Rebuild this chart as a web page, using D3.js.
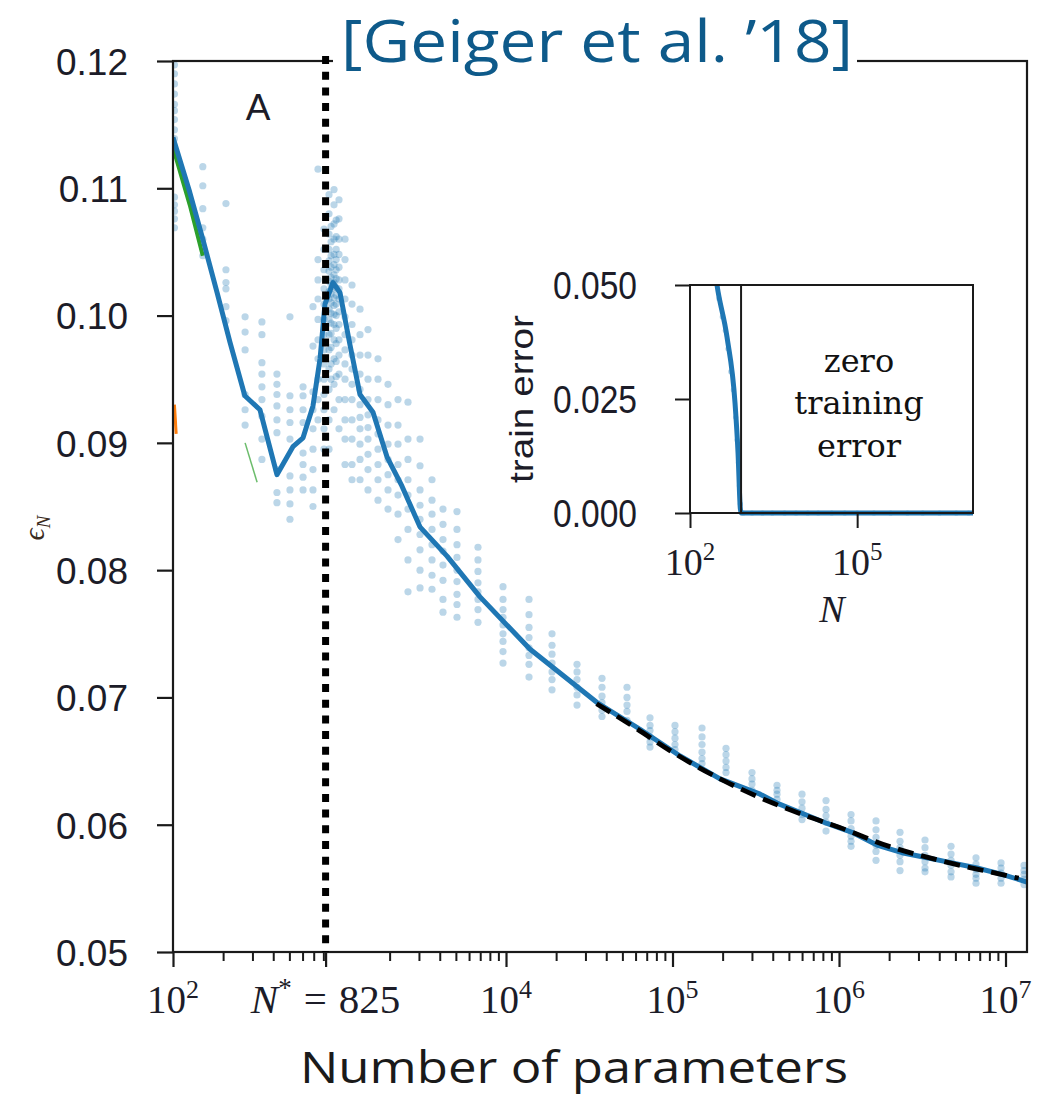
<!DOCTYPE html>
<html><head><meta charset="utf-8">
<script src="https://cdn.jsdelivr.net/npm/d3@7"></script>
<style>body{margin:0;background:#fff;} svg{display:block;}</style>
</head><body>
<svg id="chart" width="1037" height="1097"></svg>
<script>
// ---------------- data ----------------
const meanN = [100, 126, 151, 184, 220, 270, 333, 421, 525, 604, 693, 764, 818, 914, 1007, 1156, 1327, 1589, 1928, 2373, 3041, 4424, 6982, 13900, 35200, 63800, 111000, 193000, 336000, 424000, 600000, 847000, 1197000, 1690000, 2390000, 3380000, 4770000, 6750000, 9530000, 13460000];
const meanErr = [0.1140, 0.1097, 0.1060, 0.1018, 0.0979, 0.0937, 0.0926, 0.0875, 0.0897, 0.0904, 0.0929, 0.0966, 0.1009, 0.1026, 0.1018, 0.0977, 0.0938, 0.0924, 0.0889, 0.0866, 0.0834, 0.0811, 0.0779, 0.0738, 0.0696, 0.0675, 0.0654, 0.0636, 0.0624, 0.0617, 0.0609, 0.0601, 0.0594, 0.0584, 0.0578, 0.0574, 0.0570, 0.0566, 0.0561, 0.0555];

const fitN = [35000, 60000, 100000, 200000, 400000, 700000, 1000000, 2000000, 4000000, 8000000, 12000000];
const fitErr = [0.0695, 0.0676, 0.0657, 0.0635, 0.0617, 0.0605, 0.0598, 0.0583, 0.0572, 0.0563, 0.0558];

const greenN = [100, 126, 151];
const greenErr = [0.1132, 0.1087, 0.1047];
const greenTailN = [271, 320];
const greenTailErr = [0.0900, 0.0869];
const orangeN = [102, 104.5];
const orangeErr = [0.0930, 0.0907];

const scatterN = [102, 151, 208, 271, 342, 421, 504, 604, 693, 743, 807, 865, 890, 927, 955, 993, 1079, 1189, 1328, 1483, 1703, 1956, 2246, 2578, 3045, 3594, 4183, 5077, 6787, 9594, 13745, 18897, 26700, 37720, 53300, 73260, 103500, 150400, 209600, 300200, 424200, 599600, 835500, 1181000, 1668000, 2325000, 3285000, 4708000, 6650000, 9400000, 12920000];
const scatterErr = [
  [0.1197, 0.1190, 0.1182, 0.1174, 0.1166, 0.1161, 0.1154, 0.1146, 0.1139, 0.1093, 0.1087, 0.1082, 0.1076, 0.1069],
  [0.1117, 0.1102, 0.1084, 0.1069, 0.1060, 0.1047],
  [0.1088, 0.1036, 0.1026, 0.1021, 0.1007, 0.0996],
  [0.0999, 0.0987, 0.0973, 0.0938, 0.0926, 0.0914],
  [0.0995, 0.0985, 0.0963, 0.0954, 0.0944, 0.0934, 0.0921, 0.0903, 0.0887],
  [0.0954, 0.0946, 0.0938, 0.0929, 0.0918, 0.0908, 0.0879, 0.0861, 0.0853],
  [0.0999, 0.0937, 0.0926, 0.0916, 0.0903, 0.0874, 0.0863, 0.0852, 0.0840],
  [0.0944, 0.0937, 0.0926, 0.0916, 0.0892, 0.0883, 0.0873, 0.0863],
  [0.1007, 0.0976, 0.0940, 0.0926, 0.0911, 0.0895, 0.0879, 0.0863, 0.0850],
  [0.1115, 0.1044, 0.1028, 0.1013, 0.0997, 0.0981, 0.0966, 0.0950, 0.0934, 0.0918],
  [0.1068, 0.1052, 0.1036, 0.1021, 0.1009, 0.0997, 0.0985, 0.0973, 0.0962, 0.0950, 0.0938, 0.0926, 0.0911, 0.0895],
  [0.1095, 0.1080, 0.1064, 0.1052, 0.1043, 0.1035, 0.1027, 0.1019, 0.1013, 0.1005, 0.0997, 0.0985, 0.0973, 0.0958, 0.0942, 0.0918, 0.0895],
  [0.1070, 0.1058, 0.1047, 0.1038, 0.1030, 0.1024, 0.1017, 0.1010, 0.1002, 0.0994, 0.0986, 0.0975, 0.0962, 0.0950],
  [0.1099, 0.1087, 0.1072, 0.1060, 0.1048, 0.1040, 0.1032, 0.1026, 0.1021, 0.1014, 0.1008, 0.1001, 0.0993, 0.0981, 0.0966, 0.0946, 0.0926],
  [0.1075, 0.1062, 0.1052, 0.1044, 0.1036, 0.1029, 0.1022, 0.1016, 0.1009, 0.1000, 0.0990, 0.0978, 0.0964, 0.0952],
  [0.1091, 0.1076, 0.1060, 0.1048, 0.1038, 0.1028, 0.1021, 0.1013, 0.1003, 0.0993, 0.0981, 0.0969, 0.0954, 0.0934, 0.0911],
  [0.1060, 0.1044, 0.1028, 0.1013, 0.0999, 0.0985, 0.0973, 0.0962, 0.0950, 0.0934, 0.0918, 0.0903, 0.0883],
  [0.1024, 0.1009, 0.0993, 0.0981, 0.0969, 0.0958, 0.0946, 0.0934, 0.0918, 0.0903, 0.0883, 0.0871],
  [0.1005, 0.0985, 0.0969, 0.0954, 0.0942, 0.0930, 0.0920, 0.0911, 0.0899, 0.0887, 0.0871],
  [0.0989, 0.0969, 0.0950, 0.0934, 0.0922, 0.0912, 0.0903, 0.0891, 0.0879, 0.0863],
  [0.0966, 0.0950, 0.0934, 0.0918, 0.0907, 0.0895, 0.0883, 0.0871, 0.0855],
  [0.0946, 0.0930, 0.0914, 0.0899, 0.0887, 0.0875, 0.0863, 0.0848],
  [0.0934, 0.0914, 0.0899, 0.0883, 0.0871, 0.0859, 0.0844, 0.0824],
  [0.0932, 0.0903, 0.0887, 0.0871, 0.0859, 0.0848, 0.0832, 0.0808, 0.0783],
  [0.0903, 0.0882, 0.0863, 0.0851, 0.0840, 0.0828, 0.0816, 0.0800, 0.0786],
  [0.0871, 0.0855, 0.0844, 0.0832, 0.0820, 0.0808, 0.0796, 0.0785],
  [0.0848, 0.0836, 0.0824, 0.0815, 0.0804, 0.0792, 0.0777, 0.0767],
  [0.0846, 0.0832, 0.0820, 0.0810, 0.0800, 0.0791, 0.0781, 0.0773, 0.0763],
  [0.0818, 0.0808, 0.0799, 0.0790, 0.0783, 0.0777, 0.0769, 0.0759],
  [0.0787, 0.0777, 0.0769, 0.0763, 0.0757, 0.0750, 0.0744, 0.0736, 0.0727],
  [0.0777, 0.0765, 0.0755, 0.0747, 0.0739, 0.0733, 0.0726, 0.0716],
  [0.0750, 0.0741, 0.0734, 0.0727, 0.0720, 0.0714, 0.0706],
  [0.0726, 0.0720, 0.0714, 0.0708, 0.0702, 0.0694],
  [0.0715, 0.0708, 0.0701, 0.0696, 0.0690, 0.0685],
  [0.0708, 0.0700, 0.0694, 0.0689, 0.0682],
  [0.0684, 0.0678, 0.0674, 0.0669, 0.0665, 0.0661],
  [0.0678, 0.0673, 0.0668, 0.0663, 0.0659],
  [0.0676, 0.0669, 0.0663, 0.0657, 0.0652, 0.0648],
  [0.0660, 0.0655, 0.0650, 0.0645, 0.0641],
  [0.0641, 0.0636, 0.0632, 0.0627],
  [0.0631, 0.0627, 0.0624, 0.0620],
  [0.0624, 0.0618, 0.0613, 0.0608, 0.0604],
  [0.0619, 0.0612, 0.0607, 0.0602, 0.0595],
  [0.0608, 0.0603, 0.0597, 0.0591, 0.0587, 0.0583],
  [0.0603, 0.0596, 0.0590, 0.0584, 0.0579, 0.0572],
  [0.0594, 0.0587, 0.0582, 0.0576, 0.0571, 0.0564],
  [0.0588, 0.0582, 0.0576, 0.0571, 0.0566, 0.0563],
  [0.0583, 0.0577, 0.0572, 0.0568, 0.0563, 0.0559],
  [0.0574, 0.0569, 0.0565, 0.0561, 0.0558, 0.0554],
  [0.0570, 0.0566, 0.0562, 0.0558, 0.0554],
  [0.0568, 0.0564, 0.0561, 0.0557, 0.0553]
];

const nStar = 825;
const yTicks = [0.05, 0.06, 0.07, 0.08, 0.09, 0.10, 0.11, 0.12];
const yTickLabels = ["0.05", "0.06", "0.07", "0.08", "0.09", "0.10", "0.11", "0.12"];
const xMajorTicks = [100, 825, 1e4, 1e5, 1e6, 1e7];
const xTickExps = ["2", null, "4", "5", "6", "7"];

// inset
const insetN = [250, 305, 461, 643, 728, 800, 830, 1e4, 1e5, 1e6, 1.2e7];
const insetErr = [0.058, 0.050, 0.0386, 0.0241, 0.0132, 0.0010, 0, 0, 0, 0, 0];
const insetDotN = [290, 330, 380, 430, 480, 540, 600, 660, 700, 740, 770, 800, 900, 1300, 2000, 3000, 5000, 8000, 13000, 20000, 35000, 60000, 100000, 200000, 400000, 800000, 1500000, 3000000, 6000000, 10000000];
const insetDotErr = [0.0505, 0.047, 0.043, 0.040, 0.036, 0.031, 0.027, 0.021, 0.016, 0.011, 0.006, 0.002, 0, 0, 0, 0, 0, 0, 0, 0, 0, 0, 0, 0, 0, 0, 0, 0, 0, 0];
const insetYTicks = [0, 0.025, 0.05];
const insetYLabels = ["0.000", "0.025", "0.050"];
const insetXTicks = [100, 1e5];
const insetXExps = ["2", "5"];

// ---------------- drawing ----------------
const svg = d3.select("#chart");
const blue = "#1f77b4";
const ink = "#1c1c28";

const x = d3.scaleLog().domain([100, 1.346e7]).range([173, 1027]);
const y = d3.scaleLinear().domain([0.05, 0.12]).range([952, 61]);

const defs = svg.append("defs");
defs.append("clipPath").attr("id", "mainclip").append("rect")
  .attr("x", x.range()[0]).attr("y", y.range()[1] - 4)
  .attr("width", x.range()[1] - x.range()[0]).attr("height", y.range()[0] - y.range()[1] + 4);

const plot = svg.append("g").attr("clip-path", "url(#mainclip)");

// scatter
const pts = [];
scatterN.forEach((n, i) => scatterErr[i].forEach(e => pts.push([n, e])));
plot.append("g").selectAll("circle").data(pts).join("circle")
  .attr("cx", d => x(d[0])).attr("cy", d => y(d[1])).attr("r", 3.6)
  .attr("fill", blue).attr("fill-opacity", 0.3);

const line = d3.line().x(d => x(d[0])).y(d => y(d[1]));
const zip = (a, b) => a.map((v, i) => [v, b[i]]);

plot.append("path").datum(zip(greenN, greenErr)).attr("d", line)
  .attr("fill", "none").attr("stroke", "#2ca02c").attr("stroke-width", 4);
plot.append("path").datum(zip(greenTailN, greenTailErr)).attr("d", line)
  .attr("fill", "none").attr("stroke", "#2ca02c").attr("stroke-width", 1.5).attr("stroke-opacity", 0.7);
plot.append("path").datum(zip(orangeN, orangeErr)).attr("d", line)
  .attr("fill", "none").attr("stroke", "#ff7f0e").attr("stroke-width", 3);

plot.append("path").datum(zip(meanN, meanErr)).attr("d", line)
  .attr("fill", "none").attr("stroke", blue).attr("stroke-width", 5)
  .attr("stroke-linejoin", "round");

plot.append("path").datum(zip(fitN, fitErr)).attr("d", line.curve(d3.curveMonotoneX))
  .attr("fill", "none").attr("stroke", "#000").attr("stroke-width", 4.8)
  .attr("stroke-dasharray", "16,8");

// frame
svg.append("rect").attr("x", x.range()[0]).attr("y", y.range()[1])
  .attr("width", x.range()[1] - x.range()[0]).attr("height", y.range()[0] - y.range()[1])
  .attr("fill", "none").attr("stroke", "#1a1a1a").attr("stroke-width", 2.2);

// dotted N* line
svg.append("line").attr("x1", x(nStar)).attr("x2", x(nStar))
  .attr("y1", y.range()[1] - 5).attr("y2", y(0.05))
  .attr("stroke", "#000").attr("stroke-width", 7).attr("stroke-dasharray", "8,7.7");

// y axis
const yAxis = svg.append("g").attr("transform", `translate(${x.range()[0]},0)`)
  .call(d3.axisLeft(y).tickValues(yTicks).tickFormat((d, i) => yTickLabels[i]).tickSize(16).tickPadding(29));
yAxis.select(".domain").remove();
yAxis.selectAll("line").attr("stroke", "#1a1a1a").attr("stroke-width", 2.2);
yAxis.selectAll("text").attr("font-family", "Liberation Sans, Arial, sans-serif")
  .attr("font-size", 37).attr("fill", ink).attr("dy", "0.36em");

// x minor ticks
const minor = [];
for (let k = 2; k <= 6; k++) for (let m = 2; m <= 9; m++) {
  const v = m * Math.pow(10, k);
  if (k === 2 && m === 9) continue;
  minor.push(v);
}
const xMinorAxis = svg.append("g").attr("transform", `translate(0,${y(0.05)})`)
  .call(d3.axisBottom(x).tickValues(minor).tickSize(9).tickFormat(""));
xMinorAxis.select(".domain").remove();
xMinorAxis.selectAll("line").attr("stroke", "#1a1a1a").attr("stroke-width", 2);

const xMajorAxis = svg.append("g").attr("transform", `translate(0,${y(0.05)})`)
  .call(d3.axisBottom(x).tickValues(xMajorTicks).tickSize(15).tickFormat(""));
xMajorAxis.select(".domain").remove();
xMajorAxis.selectAll("line").attr("stroke", "#1a1a1a").attr("stroke-width", 2.2);

// x tick labels
const xl = svg.append("g").attr("font-family", "Liberation Serif, Times New Roman, serif").attr("fill", ink);
xMajorTicks.forEach((v, i) => {
  const t = xl.append("text").attr("x", x(v)).attr("y", 1013).attr("text-anchor", "middle").attr("font-size", 39);
  if (xTickExps[i] !== null) {
    t.append("tspan").text("10");
    t.append("tspan").attr("font-size", 26).attr("dy", -15).text(xTickExps[i]);
  } else {
    t.attr("font-size", 41);
    t.append("tspan").attr("font-style", "italic").text("N");
    t.append("tspan").attr("font-size", 27).attr("dy", -16).text("*");
    t.append("tspan").attr("dy", 16).attr("dx", 12).text("=");
    t.append("tspan").attr("dx", 12).text(String(nStar));
  }
});

// axis labels
svg.append("text").attr("x", 300).attr("y", 1083)
  .attr("font-family", "Open Sans, sans-serif").attr("font-size", 44).attr("fill", "#1a1a1a")
  .attr("textLength", 548).attr("lengthAdjust", "spacingAndGlyphs")
  .text("Number of parameters");

const eps = svg.append("text").attr("transform", "translate(44,528) rotate(-90)")
  .attr("font-family", "Liberation Serif, serif").attr("font-style", "italic")
  .attr("font-size", 30).attr("fill", "#3a2a20").attr("text-anchor", "middle");
eps.append("tspan").text("\u03f5");
eps.append("tspan").attr("font-size", 19).attr("dy", 6).text("N");

svg.append("text").attr("x", 258).attr("y", 120).attr("text-anchor", "middle")
  .attr("font-family", "Liberation Sans, Arial, sans-serif").attr("font-size", 37).attr("fill", ink)
  .text("A");

// title with white backing over the top spine
svg.append("rect").attr("x", 333).attr("y", 50).attr("width", 524).attr("height", 20).attr("fill", "#fff");
svg.append("text").attr("x", 341).attr("y", 62)
  .attr("font-family", "Open Sans, sans-serif").attr("font-size", 58).attr("fill", "#0e5a8a")
  .attr("textLength", 512).attr("lengthAdjust", "spacingAndGlyphs")
  .text("[Geiger et al. \u201918]");

// ---------------- inset ----------------
const xi = d3.scaleLog().domain([100, 1.2e7]).range([690, 973]);
const yi = d3.scaleLinear().domain([0, 0.05]).range([513, 285]);

svg.append("rect").attr("x", 690).attr("y", 285).attr("width", 283).attr("height", 228).attr("fill", "#fff");
defs.append("clipPath").attr("id", "insetclip").append("rect")
  .attr("x", xi.range()[0]).attr("y", yi.range()[1]).attr("width", xi.range()[1] - xi.range()[0])
  .attr("height", yi.range()[0] - yi.range()[1] + 3);
const ins = svg.append("g").attr("clip-path", "url(#insetclip)");

ins.append("g").selectAll("circle").data(zip(insetDotN, insetDotErr)).join("circle")
  .attr("cx", d => xi(d[0])).attr("cy", d => yi(d[1])).attr("r", 2.6)
  .attr("fill", blue).attr("fill-opacity", 0.35);

const lineI = d3.line().x(d => xi(d[0])).y(d => yi(d[1])).curve(d3.curveMonotoneX);
ins.append("path").datum(zip(insetN, insetErr)).attr("d", lineI)
  .attr("fill", "none").attr("stroke", blue).attr("stroke-width", 5).attr("stroke-linejoin", "round");

svg.append("rect").attr("x", xi.range()[0]).attr("y", yi.range()[1])
  .attr("width", xi.range()[1] - xi.range()[0]).attr("height", yi.range()[0] - yi.range()[1])
  .attr("fill", "none").attr("stroke", "#1a1a1a").attr("stroke-width", 2);

svg.append("line").attr("x1", xi(nStar)).attr("x2", xi(nStar)).attr("y1", yi(0.05)).attr("y2", yi(0))
  .attr("stroke", "#1a1a1a").attr("stroke-width", 2);

const yiAxis = svg.append("g").attr("transform", `translate(${xi.range()[0]},0)`)
  .call(d3.axisLeft(yi).tickValues(insetYTicks).tickFormat((d, i) => insetYLabels[i]).tickSize(15).tickPadding(38));
yiAxis.select(".domain").remove();
yiAxis.selectAll("line").attr("stroke", "#1a1a1a").attr("stroke-width", 2);
yiAxis.selectAll("text").attr("font-family", "Liberation Sans, Arial, sans-serif")
  .attr("font-size", 38).attr("fill", ink).attr("dy", "0.36em")
  .attr("textLength", 84).attr("lengthAdjust", "spacingAndGlyphs");

const xiAxis = svg.append("g").attr("transform", `translate(0,${yi(0)})`)
  .call(d3.axisBottom(xi).tickValues(insetXTicks).tickSize(15).tickFormat(""));
xiAxis.select(".domain").remove();
xiAxis.selectAll("line").attr("stroke", "#1a1a1a").attr("stroke-width", 2);

insetXTicks.forEach((v, i) => {
  const t = svg.append("text").attr("x", xi(v)).attr("y", 575).attr("text-anchor", "middle")
    .attr("font-family", "Liberation Serif, serif").attr("font-size", 38).attr("fill", ink);
  t.append("tspan").text("10");
  t.append("tspan").attr("font-size", 25).attr("dy", -15).text(insetXExps[i]);
});

svg.append("text").attr("x", 832).attr("y", 622).attr("text-anchor", "middle")
  .attr("font-family", "Liberation Serif, serif").attr("font-style", "italic")
  .attr("font-size", 38).attr("fill", ink).text("N");

svg.append("text").attr("transform", "translate(533,399) rotate(-90)").attr("text-anchor", "middle")
  .attr("font-family", "Liberation Sans, Arial, sans-serif").attr("font-size", 34).attr("fill", ink)
  .attr("textLength", 168).attr("lengthAdjust", "spacingAndGlyphs").text("train error");

const zt = svg.append("text").attr("text-anchor", "middle")
  .attr("font-family", "DejaVu Serif, serif").attr("font-size", 32).attr("fill", "#111");
[["zero", 372], ["training", 414], ["error", 457]].forEach(([s, yy]) => {
  zt.append("tspan").attr("x", 859).attr("y", yy).text(s);
});
</script>
</body></html>
